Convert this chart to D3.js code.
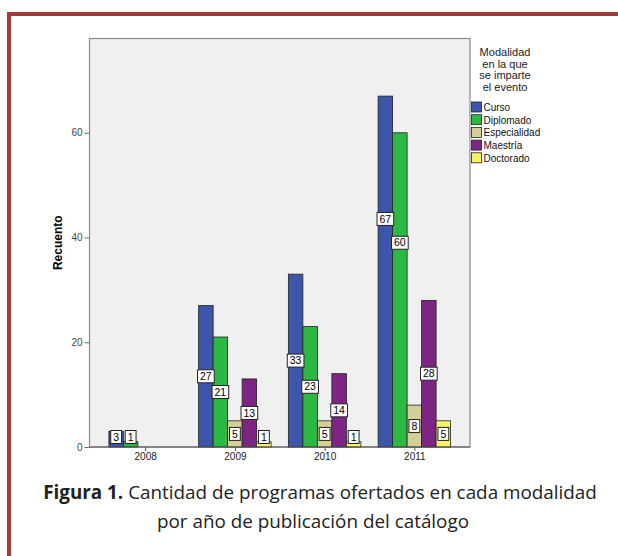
<!DOCTYPE html>
<html><head><meta charset="utf-8">
<script src="https://cdn.jsdelivr.net/npm/d3@7"></script>
<style>body{margin:0;background:#fff}svg{display:block}</style>
</head><body>
<svg id="c" width="618" height="556"></svg>
<script>
const years = ["2008", "2009", "2010", "2011"];
const series = ["Curso", "Diplomado", "Especialidad", "Maestría", "Doctorado"];
const colors = ["#3d56aa", "#2db843", "#d4cf98", "#7c2583", "#f6f465"];
const curso = [3, 27, 33, 67];
const diplomado = [1, 21, 23, 60];
const especialidad = [0, 5, 5, 8];
const maestria = [0, 13, 14, 28];
const doctorado = [0, 1, 1, 5];
const yTicks = [0, 20, 40, 60];
const legendTitle = ["Modalidad", "en la que", "se imparte", "el evento"];
const yLabel = "Recuento";
const captionBold = "Figura 1.";
const captionLine1 = " Cantidad de programas ofertados en cada modalidad";
const captionLine2 = "por año de publicación del catálogo";

const values = [curso, diplomado, especialidad, maestria, doctorado];
const svg = d3.select("#c");
const AR = "Arial, 'Liberation Sans', sans-serif";

// frame
svg.append("path").attr("d", "M9,556 V14 H618").attr("fill", "none")
  .attr("stroke", "#a23a3a").attr("stroke-width", 4);

const P = {l: 89.5, r: 470, t: 38.5, b: 447};
const x = d3.scalePoint().domain(years).range([P.l, P.r]).padding(0.62);
const y = d3.scaleLinear().domain([0, 78]).range([P.b, P.t]);
const bw = 14.5;
const xs = d3.scaleBand().domain(series).range([-bw * 2.5, bw * 2.5]);

svg.append("rect").attr("x", P.l).attr("y", P.t).attr("width", P.r - P.l).attr("height", P.b - P.t)
  .attr("fill", "#f0f0f0").attr("stroke", "#8a8a8a").attr("stroke-width", 1.2);

const data = [];
years.forEach((yr, i) => series.forEach((s, j) => data.push({yr, s, j, v: values[j][i]})));

const g = svg.append("g");
g.selectAll("rect.bar").data(data.filter(d => d.v > 0)).join("rect")
  .attr("x", d => x(d.yr) + xs(d.s)).attr("width", xs.bandwidth())
  .attr("y", d => y(d.v)).attr("height", d => y(0) - y(d.v))
  .attr("fill", d => colors[d.j]).attr("stroke", "#222").attr("stroke-width", 0.8);

// axes
const ya = svg.append("g").attr("transform", `translate(${P.l},0)`)
  .call(d3.axisLeft(y).tickValues(yTicks).tickSize(5).tickPadding(2));
ya.select(".domain").remove();
ya.selectAll("line").attr("stroke", "#666");
ya.selectAll("text").attr("font-family", AR).attr("font-size", 10).attr("fill", "#444");

const xa = svg.append("g").attr("transform", `translate(0,${P.b})`)
  .call(d3.axisBottom(x).tickSize(4).tickPadding(2));
xa.select(".domain").attr("stroke", "#555").attr("d", `M${P.l},0H${P.r}`);
xa.selectAll("line").attr("stroke", "#555");
xa.selectAll("text").attr("font-family", AR).attr("font-size", 10).attr("fill", "#222");

svg.append("text").attr("transform", `translate(62,${(P.t + P.b) / 2}) rotate(-90)`)
  .attr("text-anchor", "middle").attr("font-family", AR)
  .attr("font-weight", "bold").attr("font-size", 12).text(yLabel);

// value labels (placed in the middle of the bar; tall bars sit higher, as in SPSS)
const lab = g.selectAll("g.lab").data(data.filter(d => d.v > 0)).join("g");
lab.each(function(d) {
  const sel = d3.select(this);
  const cx = x(d.yr) + xs(d.s) + xs.bandwidth() / 2;
  const frac = d.v > 50 ? 0.65 : 0.5;
  let cy = y(d.v * frac);
  cy = Math.min(cy, P.b - 10);
  const t = sel.append("text").attr("x", cx).attr("y", cy + 3.6).attr("text-anchor", "middle")
    .attr("font-family", AR).attr("font-size", 10.5).text(d.v);
  const w = t.node().getComputedTextLength() + 5;
  sel.insert("rect", "text").attr("x", cx - w / 2).attr("y", cy - 6.5).attr("width", w).attr("height", 13)
    .attr("fill", "#fff").attr("stroke", "#222").attr("stroke-width", 1);
});

// legend
svg.append("g").selectAll("text").data(legendTitle).join("text")
  .attr("x", 505).attr("y", (d, i) => 56 + i * 11.7).attr("text-anchor", "middle")
  .attr("font-family", AR).attr("font-size", 11).attr("fill", "#222").text(d => d);
const lg = svg.append("g").selectAll("g").data(series).join("g")
  .attr("transform", (d, i) => `translate(471.5,${102 + i * 12.7})`);
lg.append("rect").attr("width", 10).attr("height", 10).attr("fill", (d, i) => colors[i]).attr("stroke", "#222").attr("stroke-width", 0.8);
lg.append("text").attr("x", 12).attr("y", 8.8).attr("font-family", AR)
  .attr("font-size", 10).attr("fill", "#111").text(d => d);

// caption
const cap = svg.append("g").attr("font-family", "'Open Sans', Lato, sans-serif").attr("fill", "#222")
  .style("font-variant-ligatures", "none");
const l1 = cap.append("text").attr("x", 320).attr("y", 499).attr("text-anchor", "middle");
l1.append("tspan").attr("font-weight", "bold").text(captionBold);
l1.append("tspan").text(captionLine1);
const l2 = cap.append("text").attr("x", 313).attr("y", 528).attr("text-anchor", "middle").text(captionLine2);
let fs = 18;
cap.attr("font-size", fs);
const w1 = l1.node().getComputedTextLength();
fs = fs * 554 / w1;
cap.attr("font-size", fs);
</script>
</body></html>
